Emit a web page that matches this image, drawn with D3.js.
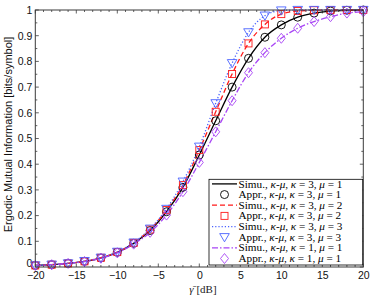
<!DOCTYPE html>
<html>
<head>
<meta charset="utf-8">
<script src="https://cdn.jsdelivr.net/npm/d3@7"></script>
<style>
  body { margin: 0; background: #fff; }
  svg { display: block; }
</style>
</head>
<body>
<script>
var snr = [-20, -18, -16, -14, -12, -10, -8, -6, -4, -2, 0, 2, 4, 6, 8, 10, 12, 14, 16, 18, 20];

var mi_k3_m1 = [0.006, 0.009, 0.014, 0.022, 0.035, 0.057, 0.092, 0.142, 0.215, 0.31, 0.436, 0.569, 0.70, 0.812, 0.894, 0.942, 0.972, 0.988, 0.996, 0.999, 1.0];
var mi_k3_m2 = [0.006, 0.009, 0.014, 0.022, 0.036, 0.058, 0.094, 0.146, 0.222, 0.319, 0.455, 0.604, 0.751, 0.870, 0.944, 0.984, 0.996, 0.999, 1.0, 1.0, 1.0];
var mi_k3_m3 = [0.006, 0.009, 0.014, 0.023, 0.036, 0.059, 0.095, 0.149, 0.226, 0.332, 0.468, 0.637, 0.793, 0.913, 0.978, 0.998, 1.0, 1.0, 1.0, 1.0, 1.0];
var mi_k1_m1 = [0.006, 0.009, 0.014, 0.021, 0.034, 0.055, 0.089, 0.135, 0.202, 0.293, 0.407, 0.526, 0.647, 0.756, 0.834, 0.89, 0.929, 0.955, 0.974, 0.988, 0.993];

var xTicks = [-20, -15, -10, -5, 0, 5, 10, 15, 20];
var yTicks = [0, 0.1, 0.2, 0.3, 0.4, 0.5, 0.6, 0.7, 0.8, 0.9, 1];

function draw() {
  "use strict";
  var series = [
    {vals: mi_k3_m1, color: '#000000', dash: null, marker: 'circle', k: 3, m: 1},
    {vals: mi_k3_m2, color: '#ff1a1a', dash: '5,3', marker: 'square', k: 3, m: 2},
    {vals: mi_k3_m3, color: '#4a62ff', dash: '1.2,2', marker: 'triangle', k: 3, m: 3},
    {vals: mi_k1_m1, color: '#a845f5', dash: '6,2,1.5,2', marker: 'diamond', k: 1, m: 1}
  ];

  var width = 374, height = 298;
  var p_left = 35.3, p_right = 363.3, p_top = 10, p_bottom = 267;

  var svg = d3.select('body').append('svg')
    .attr('width', width)
    .attr('height', height);

  var x = d3.scaleLinear().domain([-20, 20]).range([p_left, p_right]);
  var y = d3.scaleLinear().domain([0, 1]).range([p_bottom, p_top]);

  var axis_color = '#3a3a3a';
  var sans = 'Liberation Sans, Arial, sans-serif';
  var serif = 'Liberation Serif, Times New Roman, serif';

  // ticks on all four sides, pointing inward
  var minorX = d3.range(-20, 21, 1);
  var minorY = d3.range(0, 1.0001, 0.05);
  var ticks = svg.append('g').attr('stroke', axis_color).attr('stroke-width', 0.8);
  minorX.forEach(function(v) {
    var len = (v % 5 === 0) ? 3.5 : 2;
    ticks.append('line').attr('x1', x(v)).attr('x2', x(v)).attr('y1', p_bottom).attr('y2', p_bottom - len);
    ticks.append('line').attr('x1', x(v)).attr('x2', x(v)).attr('y1', p_top).attr('y2', p_top + len);
  });
  minorY.forEach(function(v, i) {
    var len = (i % 2 === 0) ? 3.5 : 2;
    ticks.append('line').attr('x1', p_left).attr('x2', p_left + len).attr('y1', y(v)).attr('y2', y(v));
    ticks.append('line').attr('x1', p_right).attr('x2', p_right - len).attr('y1', y(v)).attr('y2', y(v));
  });

  // tick labels through d3 axes, axis lines hidden
  var xAxis = svg.append('g')
    .attr('transform', 'translate(0,' + p_bottom + ')')
    .call(d3.axisBottom(x).tickValues(xTicks).tickSize(0).tickPadding(5).tickFormat(d3.format('d')));
  var yAxis = svg.append('g')
    .attr('transform', 'translate(' + p_left + ',0)')
    .call(d3.axisLeft(y).tickValues(yTicks).tickSize(0).tickPadding(3).tickFormat(function(d) {
      return (d === 0 || d === 1) ? d3.format('d')(d) : d3.format('.1f')(d);
    }));
  [xAxis, yAxis].forEach(function(a) {
    a.select('.domain').remove();
    a.selectAll('text')
      .attr('font-family', sans)
      .attr('font-size', '10.5px')
      .attr('fill', '#111');
  });
  // the "0" sits a little above the corner, as in the original
  yAxis.selectAll('.tick').filter(function(d) { return d === 0; })
    .select('text').attr('dy', '-0.05em');

  // curves
  var line = d3.line()
    .x(function(d, i) { return x(snr[i]); })
    .y(function(d) { return y(d); })
    .curve(d3.curveMonotoneX);

  var plot = svg.append('g');
  series.forEach(function(s) {
    plot.append('path')
      .attr('d', line(s.vals))
      .attr('fill', 'none')
      .attr('stroke', s.color)
      .attr('stroke-width', 1.3)
      .attr('stroke-dasharray', s.dash);
  });

  function drawMarker(g, type, cx, cy, color) {
    var m;
    if (type === 'circle') {
      m = g.append('circle').attr('cx', cx).attr('cy', cy).attr('r', 4);
    } else if (type === 'square') {
      m = g.append('rect').attr('x', cx - 3.5).attr('y', cy - 3.5).attr('width', 7).attr('height', 7);
    } else if (type === 'triangle') {
      m = g.append('path').attr('d', 'M' + (cx - 4.8) + ',' + (cy - 3.6) + 'L' + (cx + 4.8) + ',' + (cy - 3.6) + 'L' + cx + ',' + (cy + 4.6) + 'Z');
    } else {
      m = g.append('path').attr('d', 'M' + cx + ',' + (cy - 5) + 'L' + (cx + 4) + ',' + cy + 'L' + cx + ',' + (cy + 5) + 'L' + (cx - 4) + ',' + cy + 'Z');
    }
    m.attr('fill', 'none').attr('stroke', color).attr('stroke-width', 0.9);
  }

  series.forEach(function(s) {
    s.vals.forEach(function(v, i) {
      drawMarker(plot, s.marker, x(snr[i]), y(v), s.color);
    });
  });

  // frame
  svg.append('rect')
    .attr('x', p_left).attr('y', p_top)
    .attr('width', p_right - p_left).attr('height', p_bottom - p_top)
    .attr('fill', 'none')
    .attr('stroke', axis_color)
    .attr('stroke-width', 1);

  // axis labels
  svg.append('text')
    .attr('transform', 'translate(12,134.5) rotate(-90)')
    .attr('text-anchor', 'middle')
    .attr('font-family', sans)
    .attr('font-size', '11px')
    .attr('fill', '#111')
    .text('Ergodic Mutual Information [bits/symbol]');

  var xl = svg.append('text')
    .attr('x', 203)
    .attr('y', 292.5)
    .attr('text-anchor', 'middle')
    .attr('font-family', serif)
    .attr('font-size', '11px')
    .attr('fill', '#222');
  xl.append('tspan').attr('font-style', 'italic').text('γ\u0304');
  xl.append('tspan').text('\u00a0[dB]');

  // legend
  var lg_x = 209, lg_y = 179.3, lg_w = 153.7, lg_h = 85.7;
  var legend = svg.append('g');
  legend.append('rect')
    .attr('x', lg_x).attr('y', lg_y)
    .attr('width', lg_w).attr('height', lg_h)
    .attr('fill', '#fff')
    .attr('stroke', '#000')
    .attr('stroke-width', 0.8);

  var row_h = 10.66;
  series.forEach(function(s, i) {
    ['Simu.', 'Appr.'].forEach(function(kind, j) {
      var ry = lg_y + 4.6 + (i * 2 + j) * row_h;
      if (j === 0) {
        legend.append('line')
          .attr('x1', 212).attr('x2', 237)
          .attr('y1', ry).attr('y2', ry)
          .attr('stroke', s.color)
          .attr('stroke-width', 1.3)
          .attr('stroke-dasharray', s.dash);
      } else {
        drawMarker(legend, s.marker, 224.5, ry, s.color);
      }
      var t = legend.append('text')
        .attr('x', 238.5)
        .attr('y', ry + 3.6)
        .attr('font-family', serif)
        .attr('font-size', '11.2px')
        .attr('fill', '#000');
      t.append('tspan').text(kind + ', ');
      t.append('tspan').attr('font-style', 'italic').text('κ');
      t.append('tspan').text('-');
      t.append('tspan').attr('font-style', 'italic').text('μ');
      t.append('tspan').text(', ');
      t.append('tspan').attr('font-style', 'italic').text('κ');
      t.append('tspan').text(' = ' + s.k + ', ');
      t.append('tspan').attr('font-style', 'italic').text('μ');
      t.append('tspan').text(' = ' + s.m);
    });
  });
}

draw();
</script>
</body>
</html>
